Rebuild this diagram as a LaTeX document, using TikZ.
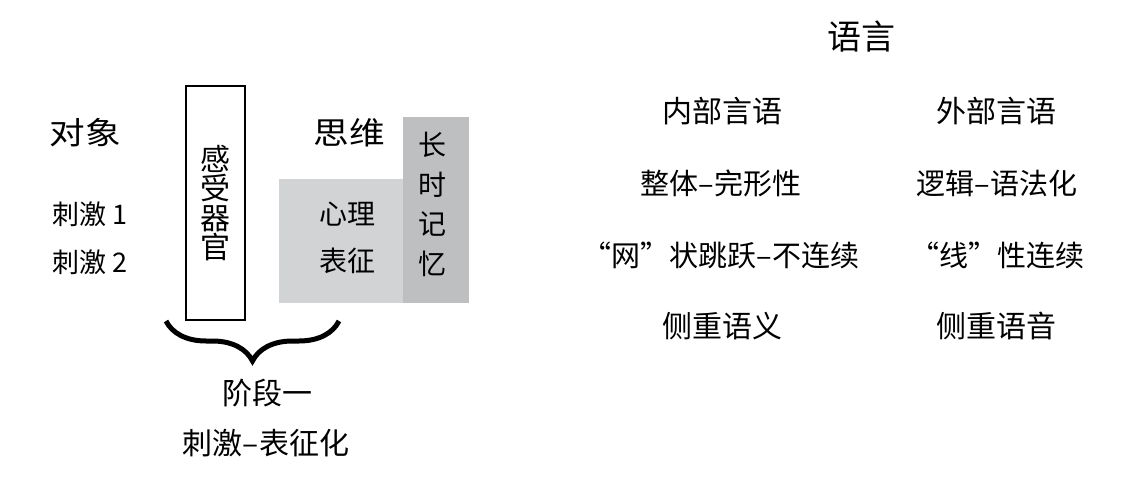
\documentclass[tikz,border=0pt]{standalone}
\usepackage{fontspec}
\setmainfont{Noto Sans CJK SC}
\usetikzlibrary{decorations.pathreplacing}
\definecolor{reprgrey}{HTML}{D1D3D5}
\definecolor{memgrey}{HTML}{BDBFC1}

\begin{document}
\begin{tikzpicture}[x=1pt, y=-1pt,
  headnode/.style={inner sep=0pt, font=\fontsize{31}{36}\selectfont, xscale=1.15, transform shape},
  textnode/.style={inner sep=0pt, font=\fontsize{29}{34}\selectfont},
  boxnode/.style={inner sep=0pt, draw=none, fill=#1}]
\useasboundingbox (0,0) rectangle (1139,476);

% left part: stimulus -> representation
\node[headnode] at (85,133) (obj) {对象};
\node[textnode, font=\fontsize{27}{32}\selectfont] at (90,214) (stim1) {刺激 1};
\node[textnode, font=\fontsize{27}{32}\selectfont] at (90,262) (stim2) {刺激 2};
\node[draw, line width=1.3pt, minimum width=59pt, minimum height=234pt, inner sep=0pt,
  align=center, font=\fontsize{30}{29.5}\selectfont] at (215.5,203) (organ) {感\\受\\器\\官};
\node[headnode] at (349,133) (think) {思维};
\node[boxnode=reprgrey, minimum width=124pt, minimum height=124pt] at (341,241) (repr) {};
\node[boxnode=memgrey, minimum width=66pt, minimum height=186pt] at (436,210) (mem) {};
\node[textnode, align=center, font=\fontsize{28}{47}\selectfont] at (347,238) (reprtxt) {心理\\表征};
\node[textnode, align=center, font=\fontsize{28}{39.7}\selectfont] at (432,204.5) (memtxt) {长\\时\\记\\忆};
\coordinate (bl) at (166,321);
\coordinate (br) at (339,321);
\draw[decorate, decoration={brace, mirror, amplitude=40pt}, line width=5pt] (bl) -- (br);
\node[textnode, font=\fontsize{30}{36}\selectfont] at (267,393) (stage) {阶段一};
\node[textnode, font=\fontsize{30}{36}\selectfont] at (266,443) (stagetxt) {刺激–表征化};

% right part: language
\node[textnode, font=\fontsize{34}{40}\selectfont] at (861,37) (lang) {语言};
\node[textnode, font=\fontsize{30}{36}\selectfont] at (722,111) (inner) {内部言语};
\node[textnode, font=\fontsize{30}{36}\selectfont] at (996,111) (outer) {外部言语};
\node[textnode] at (721,183) (in1) {整体–完形性};
\node[textnode] at (997,183) (out1) {逻辑–语法化};
\node[textnode] at (721,255) (in2) {“网”状跳跃–不连续};
\node[textnode] at (997,255) (out2) {“线”性连续};
\node[textnode, font=\fontsize{30}{36}\selectfont] at (722,326) (in3) {侧重语义};
\node[textnode, font=\fontsize{30}{36}\selectfont] at (996,326) (out3) {侧重语音};
\end{tikzpicture}
\end{document}
